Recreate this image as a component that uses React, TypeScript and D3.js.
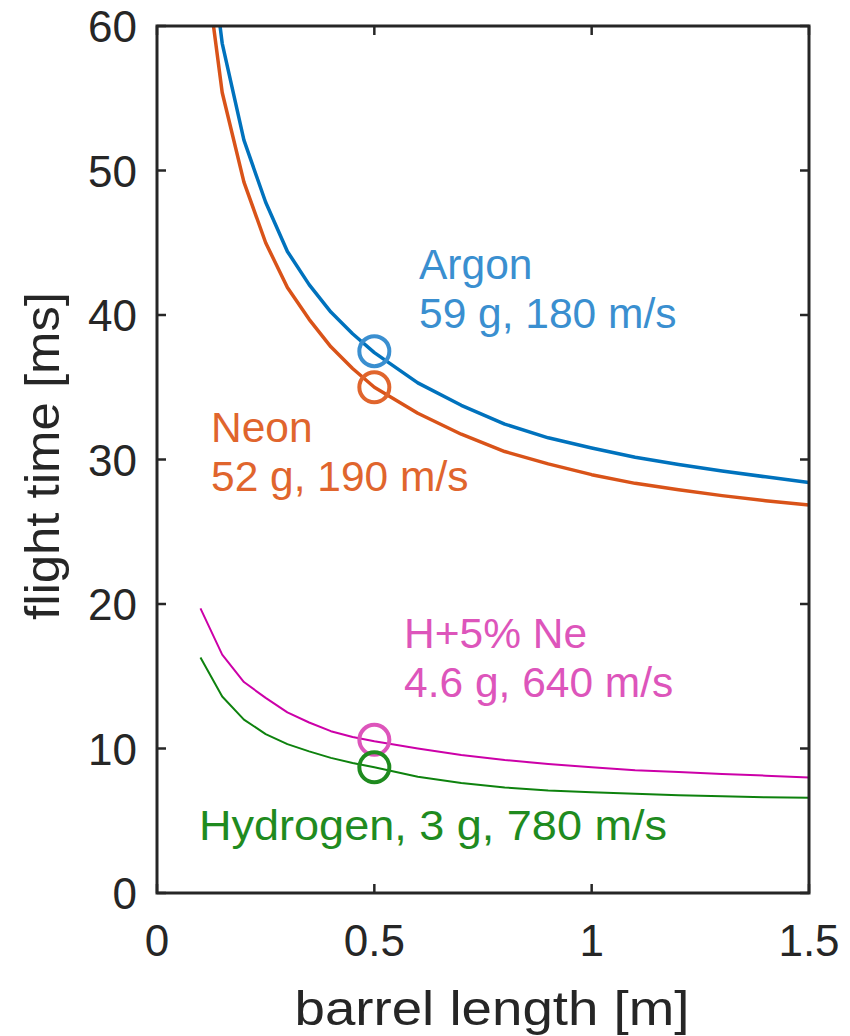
import React from 'react';
import * as d3 from 'd3';

// barrel length [m]
const lengths = [0.1, 0.15, 0.2, 0.25, 0.3, 0.35, 0.4, 0.45, 0.5, 0.6, 0.7, 0.8, 0.9, 1.0, 1.1, 1.2, 1.3, 1.4, 1.5];

// flight time [ms]
const argon = [70.8, 58.8, 52.1, 47.8, 44.4, 42.1, 40.2, 38.7, 37.4, 35.3, 33.75, 32.45, 31.5, 30.8, 30.15, 29.65, 29.2, 28.8, 28.4];
const neon = [66.9, 55.4, 49.2, 45.0, 41.9, 39.7, 37.8, 36.3, 35.0, 33.2, 31.75, 30.55, 29.7, 28.95, 28.35, 27.9, 27.5, 27.15, 26.85];
const hNe = [19.7, 16.5, 14.6, 13.5, 12.5, 11.8, 11.2, 10.8, 10.5, 10.0, 9.55, 9.2, 8.93, 8.7, 8.5, 8.37, 8.24, 8.12, 8.0];
const hydrogen = [16.3, 13.6, 12.0, 11.0, 10.3, 9.8, 9.35, 9.0, 8.7, 8.05, 7.62, 7.3, 7.1, 6.97, 6.86, 6.77, 6.69, 6.63, 6.6];

// operating points (circles)
const pointX = [0.5, 0.5, 0.5, 0.5];
const pointY = [37.5, 35.0, 10.6, 8.7];

const xTicks = [0, 0.5, 1, 1.5];
const yTicks = [0, 10, 20, 30, 40, 50, 60];

const series = [
  { name: 'argon', values: argon, color: '#0072BD', width: 3.5 },
  { name: 'neon', values: neon, color: '#D95319', width: 3.5 },
  { name: 'hne', values: hNe, color: '#CC00A8', width: 2 },
  { name: 'hydrogen', values: hydrogen, color: '#0E820E', width: 2 },
];
const markColors = ['#3A8FD0', '#E0652D', '#DD55BB', '#1F8B1F'];

const labels = [
  { lines: ['Argon', '59 g, 180 m/s'], x: 419, y: 279, color: '#3A8FD0' },
  { lines: ['Neon', '52 g, 190 m/s'], x: 211, y: 442, color: '#E0652D' },
  { lines: ['H+5% Ne', '4.6 g, 640 m/s'], x: 404, y: 648, color: '#DD55BB' },
  { lines: ['Hydrogen, 3 g, 780 m/s'], x: 199, y: 840, color: '#1F8B1F', len: 468 },
];

const font = '"Liberation Sans", Arial, Helvetica, sans-serif';
const axisColor = '#262626';

export default function App() {
  const left = 157, right = 809, top = 26, bottom = 893;
  const x = d3.scaleLinear().domain([0, 1.5]).range([left, right]);
  const y = d3.scaleLinear().domain([0, 60]).range([bottom, top]);
  const line = d3.line<number>().x((_, i) => x(lengths[i])).y(d => y(d));

  return (
    <svg width={850} height={1036} style={{ position: 'absolute', left: 0, top: 0, background: '#fff' }}>
      <defs>
        <clipPath id="plot">
          <rect x={left} y={top} width={right - left} height={bottom - top} />
        </clipPath>
      </defs>
      <g clipPath="url(#plot)">
        {series.map(s => (
          <path key={s.name} d={line(s.values) || ''} fill="none" stroke={s.color} strokeWidth={s.width} strokeLinejoin="round" />
        ))}
      </g>
      {pointX.map((px, i) => (
        <circle key={i} cx={x(px)} cy={y(pointY[i])} r={15} fill="none" stroke={markColors[i]} strokeWidth={4} />
      ))}
      {labels.map((l, i) => (
        <text key={i} x={l.x} y={l.y} fill={l.color} fontFamily={font} fontSize={42.5}>
          {l.lines.map((t, j) => (
            <tspan key={j} x={l.x} dy={j === 0 ? 0 : 49}
              {...(l.len ? { textLength: l.len, lengthAdjust: 'spacingAndGlyphs' } : {})}>{t}</tspan>
          ))}
        </text>
      ))}
      {/* axes box */}
      <rect x={left} y={top} width={right - left} height={bottom - top} fill="none" stroke={axisColor} strokeWidth={3} />
      {xTicks.map(t => (
        <g key={'x' + t}>
          <line x1={x(t)} x2={x(t)} y1={bottom} y2={bottom - 9} stroke={axisColor} strokeWidth={2.5} />
          <line x1={x(t)} x2={x(t)} y1={top} y2={top + 9} stroke={axisColor} strokeWidth={2.5} />
          <text x={x(t)} y={956} textAnchor="middle" fill={axisColor} fontFamily={font} fontSize={44}>{t}</text>
        </g>
      ))}
      {yTicks.map(t => (
        <g key={'y' + t}>
          <line x1={left} x2={left + 9} y1={y(t)} y2={y(t)} stroke={axisColor} strokeWidth={2.5} />
          <line x1={right} x2={right - 9} y1={y(t)} y2={y(t)} stroke={axisColor} strokeWidth={2.5} />
          <text x={137} y={y(t) + 16} textAnchor="end" fill={axisColor} fontFamily={font} fontSize={44}>{t}</text>
        </g>
      ))}
      <text x={492} y={1025} textAnchor="middle" fill={axisColor} fontFamily={font} fontSize={48}
        textLength={395} lengthAdjust="spacingAndGlyphs">barrel length [m]</text>
      <text transform="translate(59,456) rotate(-90)" textAnchor="middle" fill={axisColor} fontFamily={font} fontSize={48}
        textLength={328} lengthAdjust="spacingAndGlyphs">flight time [ms]</text>
    </svg>
  );
}
